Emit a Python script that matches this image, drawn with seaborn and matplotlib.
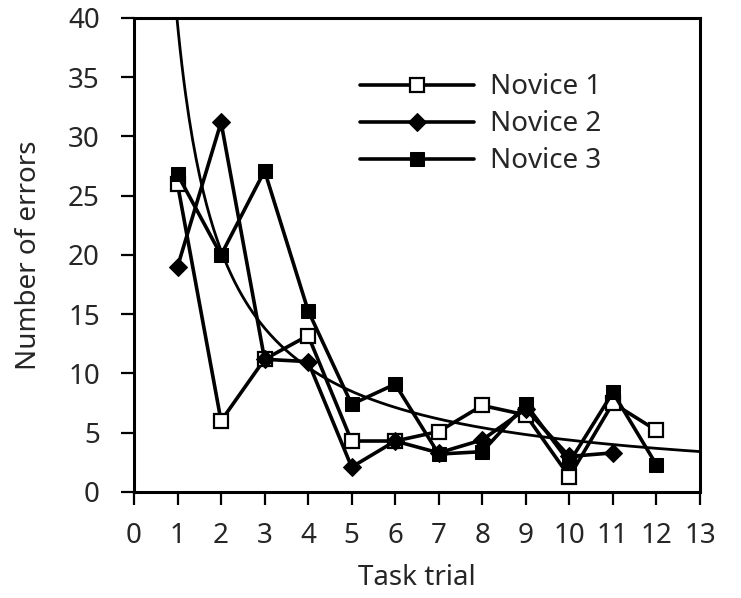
import numpy as np
import matplotlib
matplotlib.use("Agg")
import matplotlib.pyplot as plt
import seaborn as sns

# Errors per task trial for three novice users
trials = [1, 2, 3, 4, 5, 6, 7, 8, 9, 10, 11, 12]
novice1 = [26.0, 6.0, 11.2, 13.2, 4.3, 4.3, 5.1, 7.3, 6.5, 1.3, 7.5, 5.2]
novice2_trials = [1, 2, 3, 4, 5, 6, 7, 8, 9, 10, 11]
novice2 = [19.0, 31.2, 11.2, 11.0, 2.1, 4.3, 3.3, 4.4, 7.0, 3.0, 3.3]
novice3 = [26.8, 20.0, 27.1, 15.3, 7.4, 9.1, 3.2, 3.4, 7.4, 2.5, 8.4, 2.3]

# Power-law learning curve: errors = a * trial^(-b)
curve_a = 39.5
curve_b = 0.955

x_ticks = list(range(0, 14))
y_ticks = list(range(0, 45, 5))

sns.set_style("ticks")
plt.rcParams["font.family"] = ["Noto Sans", "DejaVu Sans"]
plt.rcParams["font.weight"] = "medium"
plt.rcParams["axes.labelweight"] = "medium"

fig = plt.figure(figsize=(7.41, 5.98), dpi=100)
ax = fig.add_axes([0.1808, 0.1773, 0.7638, 0.7926])

curve_x = np.linspace(0.9, 13, 300)
curve_y = curve_a * curve_x ** (-curve_b)
sns.lineplot(x=curve_x, y=curve_y, ax=ax, color="black", linewidth=2.0,
             sort=False, estimator=None, zorder=2)

sns.lineplot(x=trials, y=novice1, ax=ax, color="black", linewidth=2.6,
             marker="s", markersize=10, markerfacecolor="white",
             markeredgecolor="black", markeredgewidth=1.6,
             label="Novice 1", zorder=3)
sns.lineplot(x=novice2_trials, y=novice2, ax=ax, color="black", linewidth=2.6,
             marker="D", markersize=9, markerfacecolor="black",
             markeredgecolor="black", label="Novice 2", zorder=3)
sns.lineplot(x=trials, y=novice3, ax=ax, color="black", linewidth=2.6,
             marker="s", markersize=10, markerfacecolor="black",
             markeredgecolor="black", label="Novice 3", zorder=4)

ax.set_xlim(0, 13)
ax.set_ylim(0, 40)
ax.set_xticks(x_ticks)
ax.set_yticks(y_ticks)
ax.tick_params(axis="both", which="major", labelsize=20, width=1.6,
               length=9.5, color="black", direction="out")
ax.tick_params(axis="x", pad=12)
ax.tick_params(axis="y", pad=15)

for side in ["left", "right", "top", "bottom"]:
    ax.spines[side].set_visible(True)
    ax.spines[side].set_linewidth(2.2)
    ax.spines[side].set_color("black")

ax.set_xlabel("Task trial", fontsize=20, labelpad=10)
ax.set_ylabel("Number of errors", fontsize=20, labelpad=18)

ax.legend(loc="upper left", bbox_to_anchor=(0.40, 0.883), frameon=False,
          fontsize=20, handlelength=4.1, handletextpad=0.55,
          labelspacing=0.32, borderpad=0, borderaxespad=0)

fig.savefig("out.png", dpi=100, facecolor="white")
